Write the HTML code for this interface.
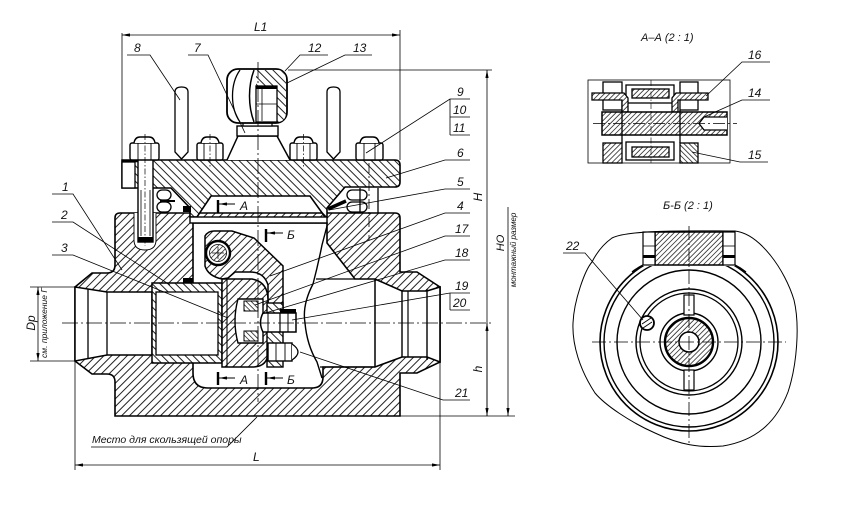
<!DOCTYPE html>
<html><head><meta charset="utf-8"><style>
html,body{margin:0;padding:0;background:#fff;width:857px;height:514px;overflow:hidden;}
svg{display:block;}
text{font-family:"Liberation Sans",sans-serif;font-style:italic;fill:#111;}
</style></head><body>
<svg width="857" height="514" viewBox="0 0 857 514" xmlns="http://www.w3.org/2000/svg">
<defs>
<pattern id="ha" patternUnits="userSpaceOnUse" width="5.5" height="5.5" patternTransform="rotate(45)"><rect width="5.5" height="5.5" fill="#fff"/><line x1="0.5" y1="0" x2="0.5" y2="5.5" stroke="#222" stroke-width="1"/></pattern>
<pattern id="hb" patternUnits="userSpaceOnUse" width="5.5" height="5.5" patternTransform="rotate(-45)"><rect width="5.5" height="5.5" fill="#fff"/><line x1="0.5" y1="0" x2="0.5" y2="5.5" stroke="#222" stroke-width="1"/></pattern>
<pattern id="hs" patternUnits="userSpaceOnUse" width="3.6" height="3.6" patternTransform="rotate(45)"><rect width="3.6" height="3.6" fill="#fff"/><line x1="0.5" y1="0" x2="0.5" y2="3.6" stroke="#2a2a2a" stroke-width="0.8"/></pattern>
<pattern id="hsb" patternUnits="userSpaceOnUse" width="3.6" height="3.6" patternTransform="rotate(-45)"><rect width="3.6" height="3.6" fill="#fff"/><line x1="0.5" y1="0" x2="0.5" y2="3.6" stroke="#2a2a2a" stroke-width="0.8"/></pattern>
<marker id="ar" viewBox="0 0 10 4" refX="10" refY="2" markerWidth="9" markerHeight="3.2" markerUnits="userSpaceOnUse" orient="auto-start-reverse"><path d="M0,0 L10,2 L0,4 Z" fill="#000"/></marker>
</defs>

<!-- Body (part 1) -->
<path d="M120,213 L395,213 Q400,213 400,218 L400,272 L417,272 L440,287 L440,362 L417,373 L400,373 L400,416 L115,416 L115,382 Q115,374 107,374 L92,374 L75,361 L75,287 L92,273 L107,273 Q115,273 115,265 L115,218 Q115,213 120,213 Z" fill="url(#ha)" stroke="#000" stroke-width="1.6"/>
<path d="M193,223 L327,223 L327,243 L355,279 L375,279 L402,291 L427,291 L440,287 L440,362 L427,357 L402,357 L375,367 L323,367 L323,377 Q323,388 312,388 L208,388 Q193,388 193,373 Z" fill="#fff" stroke="#000" stroke-width="1.6"/>
<path d="M75,287 L107,292 L152,292 L152,355 L107,355 L75,361 Z" fill="#fff" stroke="#000" stroke-width="1.5"/>
<line x1="88" y1="289" x2="88" y2="359" stroke="#000" stroke-width="1.3"/>
<line x1="107" y1="292" x2="107" y2="355" stroke="#000" stroke-width="1.3"/>
<line x1="375" y1="279" x2="375" y2="367" stroke="#000" stroke-width="1.5"/>
<line x1="402" y1="291" x2="402" y2="357" stroke="#000" stroke-width="1.4"/>
<line x1="408" y1="291" x2="408" y2="357" stroke="#000" stroke-width="1.2"/>
<line x1="427" y1="289" x2="427" y2="360" stroke="#000" stroke-width="1.4"/>
<path d="M327,226 L322,245 Q318,265 313,284 Q302,305 305,323 Q307,345 317,362 L322,378" fill="none" stroke="#000" stroke-width="1.4"/>
<line x1="316" y1="279" x2="355" y2="279" stroke="#000" stroke-width="1.3"/>
<line x1="320" y1="367" x2="375" y2="367" stroke="#000" stroke-width="1.3"/>
<rect x="152" y="283" width="70" height="80" fill="url(#hb)" stroke="#000" stroke-width="1.5"/>
<rect x="156" y="292" width="62" height="63" fill="#fff" stroke="#000" stroke-width="1.3"/>
<rect x="183" y="278" width="10" height="5" fill="#000"/>

<!-- Cover (part 6) -->
<path d="M122,160 L395,160 Q400,160 400,165 L400,182 Q400,187 395,187 L345,187 L327,208 L327,217 L325,217 L310,196 L211,196 L197,217 L190,217 L190,208 L171,188 L122,188 Z" fill="url(#hb)" stroke="#000" stroke-width="1.6"/>
<rect x="190" y="217" width="137" height="6" fill="#fff" stroke="#000" stroke-width="1.4"/>
<rect x="122" y="162" width="13" height="26" fill="#fff" stroke="#000" stroke-width="1.3"/>
<line x1="122" y1="161" x2="140" y2="161" stroke="#000" stroke-width="2.4"/>
<rect x="183" y="206" width="8" height="6" fill="#000"/>
<line x1="328" y1="209" x2="346" y2="201" stroke="#000" stroke-width="3.5"/>
<path d="M134,213 L134,240 Q134,250 145,250 Q156,250 156,240 L156,213" fill="#fff" stroke="#000" stroke-width="0.9"/>
<rect x="138" y="140" width="15" height="102" fill="#fff" stroke="#000" stroke-width="1.4"/>
<rect x="138" y="237" width="15" height="5" fill="#000"/>
<line x1="141" y1="190" x2="141" y2="236" stroke="#000" stroke-width="0.8"/>
<line x1="150" y1="190" x2="150" y2="236" stroke="#000" stroke-width="0.8"/>
<rect x="157" y="190" width="14" height="10" rx="5" fill="#fff" stroke="#000" stroke-width="1.3"/>
<rect x="157" y="202" width="14" height="10" rx="5" fill="#fff" stroke="#000" stroke-width="1.3"/>
<line x1="160" y1="201" x2="175" y2="201" stroke="#000" stroke-width="2"/>
<rect x="347" y="190" width="20" height="10" rx="5" fill="#fff" stroke="#000" stroke-width="1.3"/>
<rect x="347" y="202" width="20" height="10" rx="5" fill="#fff" stroke="#000" stroke-width="1.3"/>
<line x1="360" y1="188" x2="360" y2="213" stroke="#000" stroke-width="1.3"/>
<line x1="378" y1="188" x2="378" y2="213" stroke="#000" stroke-width="1.3"/>
<line x1="369" y1="163" x2="369" y2="240" stroke="#000" stroke-width="0.8" stroke-dasharray="10 3 2 3"/>

<!-- nuts (9) -->
<g fill="#fff" stroke="#000" stroke-width="1.4">
<rect x="130" y="143" width="29" height="17" rx="2"/>
<path d="M134,143 Q135,137 140,137 L149,137 Q154,137 155,143"/>
<rect x="197" y="143" width="26" height="17" rx="2"/>
<path d="M201,143 Q202,137 207,137 L213,137 Q218,137 219,143"/>
<rect x="290" y="143" width="27" height="17" rx="2"/>
<path d="M294,143 Q295,137 300,137 L307,137 Q312,137 313,143"/>
<rect x="356" y="143" width="27" height="17" rx="2"/>
<path d="M360,143 Q361,137 366,137 L373,137 Q378,137 379,143"/>
</g>
<g stroke="#000" stroke-width="0.9">
<line x1="138" y1="143" x2="138" y2="160"/><line x1="151" y1="143" x2="151" y2="160"/>
<line x1="204" y1="143" x2="204" y2="160"/><line x1="216" y1="143" x2="216" y2="160"/>
<line x1="297" y1="143" x2="297" y2="160"/><line x1="310" y1="143" x2="310" y2="160"/>
<line x1="364" y1="143" x2="364" y2="160"/><line x1="375" y1="143" x2="375" y2="160"/>
</g>
<g stroke="#000" stroke-width="0.7" stroke-dasharray="6 2 1.5 2">
<line x1="145" y1="134" x2="145" y2="246"/>
<line x1="210" y1="134" x2="210" y2="168"/>
<line x1="303.5" y1="134" x2="303.5" y2="168"/>
</g>
<path d="M175,152 L175,92 Q175,87 181.5,87 Q188,87 188,92 L188,152 L181.5,159 L175,152 Z" fill="#fff" stroke="#000" stroke-width="1.3"/>
<path d="M327,152 L327,92 Q327,87 333.5,87 Q340,87 340,92 L340,152 L333.5,159 L327,152 Z" fill="#fff" stroke="#000" stroke-width="1.3"/>
<path d="M227,160 L238,136 L277,136 L290,160" fill="#fff" stroke="#000" stroke-width="1.5"/>
<rect x="237" y="126" width="41" height="10" fill="#fff" stroke="#000" stroke-width="1.4"/>
<rect x="243" y="122" width="29" height="4" fill="#fff" stroke="#000" stroke-width="1.2"/>
<rect x="227" y="69" width="60" height="54" rx="11" fill="#fff" stroke="#000" stroke-width="1.8"/>
<path d="M256,70 L277,70 Q286,70 286,80 L286,112 Q286,122 277,122 L256,122 Z" fill="url(#hb)"/>
<rect x="256" y="86" width="21" height="36" fill="#fff" stroke="#000" stroke-width="1.3"/>
<rect x="256" y="86" width="21" height="3" fill="#000"/>
<line x1="262" y1="89" x2="262" y2="121" stroke="#000" stroke-width="0.8"/>
<line x1="256" y1="104" x2="277" y2="104" stroke="#000" stroke-width="0.8"/>
<path d="M254,70 C248,86 248,106 254,122" fill="none" stroke="#000" stroke-width="1.5"/>
<path d="M240,70 C230,84 230,108 240,122" fill="none" stroke="#000" stroke-width="1.3"/>

<!-- arm, pin, disc -->
<path d="M205,236 Q208,231 214,231 L232,231 L254,238 L283,266 L283,312 L268,312 L268,285 Q264,272 250,272 L235,272 L228,278 L222,279 Q208,276 205,266 Z" fill="url(#ha)" stroke="#000" stroke-width="1.5"/>
<circle cx="218" cy="253" r="12" fill="#fff" stroke="#000" stroke-width="2.4"/>
<circle cx="218" cy="253" r="8.5" fill="url(#hs)" stroke="#000" stroke-width="0.8"/>
<line x1="212" y1="253" x2="224" y2="253" stroke="#000" stroke-width="0.7"/>
<line x1="218" y1="247" x2="218" y2="259" stroke="#000" stroke-width="0.7"/>
<path d="M222,279 L252,279 Q268,282 268,300 L268,352 Q268,367 252,367 L222,367 Z" fill="url(#ha)" stroke="#000" stroke-width="1.5"/>
<line x1="227" y1="279" x2="227" y2="367" stroke="#000" stroke-width="1.1"/>
<rect x="267" y="303" width="16" height="64" fill="url(#hb)" stroke="#000" stroke-width="1.4"/>
<path d="M238,299 L263,299 L263,343 L238,343 Q232,321 238,299 Z" fill="#fff" stroke="#000" stroke-width="1.4"/>
<rect x="244" y="301" width="14" height="10" fill="url(#hsb)" stroke="#000" stroke-width="1"/>
<rect x="244" y="331" width="14" height="10" fill="url(#hsb)" stroke="#000" stroke-width="1"/>
<path d="M263,313 L296,313 L296,332 L263,332 Q258,322.5 263,313 Z" fill="#fff" stroke="#000" stroke-width="1.5"/>
<line x1="268" y1="313" x2="268" y2="332" stroke="#000" stroke-width="1"/>
<line x1="280" y1="313" x2="280" y2="332" stroke="#000" stroke-width="1.2"/>
<line x1="288" y1="313" x2="288" y2="332" stroke="#000" stroke-width="1"/>
<rect x="280" y="309" width="16" height="4" fill="#000"/>
<rect x="268" y="343" width="24" height="18" fill="#fff" stroke="#000" stroke-width="1.4"/>
<line x1="276" y1="343" x2="276" y2="361" stroke="#000" stroke-width="0.9"/>
<line x1="285" y1="343" x2="285" y2="361" stroke="#000" stroke-width="0.9"/>
<path d="M292,344 Q304,352 292,360" fill="#fff" stroke="#000" stroke-width="1.3"/>
<g stroke="#000" fill="none">
<line x1="218" y1="200" x2="218" y2="213" stroke-width="2.4"/>
<line x1="235" y1="204" x2="219" y2="204" stroke-width="1" marker-end="url(#ar)"/>
<line x1="266" y1="229" x2="266" y2="242" stroke-width="2.4"/>
<line x1="283" y1="233" x2="267" y2="233" stroke-width="1" marker-end="url(#ar)"/>
<line x1="218" y1="372" x2="218" y2="385" stroke-width="2.4"/>
<line x1="235" y1="378" x2="219" y2="378" stroke-width="1" marker-end="url(#ar)"/>
<line x1="266" y1="372" x2="266" y2="385" stroke-width="2.4"/>
<line x1="283" y1="378" x2="267" y2="378" stroke-width="1" marker-end="url(#ar)"/>
</g>
<text x="240" y="210" font-size="12">А</text>
<text x="287" y="239" font-size="12">Б</text>
<text x="240" y="384" font-size="12">А</text>
<text x="287" y="384" font-size="12">Б</text>

<g stroke="#000" stroke-width="0.8" stroke-dasharray="16 3 2 3" fill="none">
<line x1="258" y1="62" x2="258" y2="402"/>
<line x1="62" y1="323" x2="492" y2="323"/>
</g>

<g stroke="#000" stroke-width="0.8" fill="none">
<line x1="122" y1="33" x2="122" y2="160"/>
<line x1="400" y1="30" x2="400" y2="160"/>
<line x1="122" y1="35" x2="400" y2="35" marker-start="url(#ar)" marker-end="url(#ar)"/>
<line x1="288" y1="70" x2="492" y2="70"/>
<line x1="487" y1="70" x2="487" y2="416" marker-start="url(#ar)" marker-end="url(#ar)"/>
<line x1="487" y1="323" x2="487" y2="416" marker-start="url(#ar)"/>
<line x1="400" y1="416" x2="515" y2="416"/>
<line x1="508" y1="207" x2="508" y2="416" marker-end="url(#ar)"/>
<line x1="75" y1="362" x2="75" y2="470"/>
<line x1="440" y1="362" x2="440" y2="470"/>
<line x1="75" y1="465" x2="440" y2="465" marker-start="url(#ar)" marker-end="url(#ar)"/>
<line x1="30" y1="287" x2="75" y2="287"/>
<line x1="30" y1="361" x2="75" y2="361"/>
<line x1="38" y1="287" x2="38" y2="361" marker-start="url(#ar)" marker-end="url(#ar)"/>
<polyline points="91,447 227,447 257,417"/>
</g>
<text x="254" y="31" font-size="12">L1</text>
<text x="253" y="461" font-size="12">L</text>
<text transform="translate(482,197) rotate(-90)" font-size="12" text-anchor="middle">H</text>
<text transform="translate(482,369) rotate(-90)" font-size="12" text-anchor="middle">h</text>
<text transform="translate(504,243) rotate(-90)" font-size="11" text-anchor="middle">HO</text>
<text transform="translate(516,250) rotate(-90)" font-size="8" text-anchor="middle">монтажный размер</text>
<text transform="translate(35,323) rotate(-90)" font-size="12" text-anchor="middle">Dр</text>
<text transform="translate(47,323) rotate(-90)" font-size="8.5" text-anchor="middle">см. приложение Г</text>
<text x="92" y="443" font-size="10.5">Место для скользящей опоры</text>

<g stroke="#000" stroke-width="0.8" fill="none">
<polyline points="127,55 150,55 180,100"/>
<polyline points="188,55 208,55 245,133"/>
<polyline points="328,55 300,55 285,71"/>
<polyline points="372,55 345,55 287,83"/>
<polyline points="470,99 450,99 366,153"/>
<line x1="450" y1="117" x2="470" y2="117"/>
<line x1="450" y1="135" x2="470" y2="135"/>
<line x1="450" y1="99" x2="450" y2="135"/>
<polyline points="470,160 445,160 386,178"/>
<polyline points="470,189 445,189 329,210"/>
<polyline points="470,213 445,213 270,276"/>
<polyline points="470,236 445,236 255,305"/>
<polyline points="470,260 445,260 262,314"/>
<polyline points="470,293 450,293 292,320"/>
<line x1="450" y1="310" x2="470" y2="310"/>
<line x1="450" y1="293" x2="450" y2="310"/>
<polyline points="470,400 443,400 300,352"/>
<polyline points="52,194 73,194 122,270"/>
<polyline points="52,222 73,222 170,285"/>
<polyline points="52,255 73,255 228,318"/>
</g>
<g font-size="12">
<text x="134" y="52">8</text>
<text x="194" y="52">7</text>
<text x="308" y="52">12</text>
<text x="353" y="52">13</text>
<text x="457" y="96">9</text>
<text x="453" y="114">10</text>
<text x="453" y="132">11</text>
<text x="457" y="157">6</text>
<text x="457" y="186">5</text>
<text x="457" y="210">4</text>
<text x="455" y="233">17</text>
<text x="455" y="257">18</text>
<text x="455" y="290">19</text>
<text x="453" y="307">20</text>
<text x="455" y="397">21</text>
<text x="62" y="191">1</text>
<text x="61" y="219">2</text>
<text x="61" y="252">3</text>
</g>

<!-- SECTION A-A -->
<text x="641" y="41" font-size="11">А–А  (2 : 1)</text>
<rect x="588" y="80" width="142" height="83" fill="none" stroke="#000" stroke-width="0.8"/>
<g stroke="#000" stroke-width="1.3">
<rect x="603" y="82" width="19" height="28" fill="#fff"/>
<rect x="680" y="82" width="18" height="28" fill="#fff"/>
<rect x="603" y="143" width="19" height="20" fill="url(#hs)"/>
<rect x="680" y="143" width="18" height="20" fill="url(#hsb)"/>
<rect x="626" y="85" width="48" height="18" fill="#fff"/>
<rect x="632" y="89" width="37" height="9" fill="url(#hs)"/>
<rect x="626" y="142" width="48" height="18" fill="#fff"/>
<rect x="632" y="147" width="37" height="10" fill="url(#hs)"/>
<path d="M592,93 L624,93 L628,98 L628,112 L622,112 L622,100 L592,100 Z" fill="url(#hs)"/>
<path d="M708,93 L676,93 L672,98 L672,112 L678,112 L678,100 L708,100 Z" fill="url(#hs)"/>
<rect x="602" y="112" width="125" height="23" fill="url(#hs)" stroke-width="1.5"/>
<path d="M727,117 L704,117 L699,123.5 L704,130 L727,130" fill="#fff"/>
<line x1="622" y1="110" x2="622" y2="143"/>
<line x1="680" y1="110" x2="680" y2="143"/>
</g>
<line x1="593" y1="123.5" x2="737" y2="123.5" stroke="#000" stroke-width="0.7" stroke-dasharray="12 3 2 3"/>
<line x1="651" y1="80" x2="651" y2="163" stroke="#000" stroke-width="0.6" stroke-dasharray="6 2 1.5 2"/>
<g stroke="#000" stroke-width="0.8" fill="none">
<polyline points="770,62 742,62 706,96"/>
<polyline points="770,100 742,100 704,117"/>
<polyline points="768,162 740,162 692,152"/>
</g>
<text x="748" y="59" font-size="12">16</text>
<text x="748" y="97" font-size="12">14</text>
<text x="748" y="159" font-size="12">15</text>

<!-- SECTION Б-Б -->
<text x="663" y="209" font-size="11">Б-Б  (2 : 1)</text>
<g fill="none" stroke="#000">
<circle cx="689" cy="342" r="89" stroke-width="1.6"/>
<circle cx="689" cy="342" r="85" stroke-width="1.4"/>
<circle cx="689" cy="342" r="72" stroke-width="1.4"/>
<circle cx="689" cy="342" r="53" stroke-width="1.4"/>
<circle cx="689" cy="342" r="49" stroke-width="1.3"/>
<circle cx="689" cy="342" r="29" stroke-width="1.4"/>
</g>
<circle cx="689" cy="342" r="24" fill="url(#hs)" stroke="#000" stroke-width="2.4"/>
<circle cx="689" cy="342" r="10" fill="#fff" stroke="#000" stroke-width="1.5"/>
<rect x="684" y="295" width="10" height="20" fill="#fff" stroke="#000" stroke-width="1.2"/>
<rect x="684" y="370" width="10" height="20" fill="#fff" stroke="#000" stroke-width="1.2"/>
<rect x="640" y="226" width="98" height="40" fill="#fff"/>
<rect x="655" y="232" width="68" height="33" fill="url(#hs)" stroke="#000" stroke-width="1.5"/>
<rect x="643" y="232" width="12" height="33" fill="#fff" stroke="#000" stroke-width="1.2"/>
<rect x="723" y="232" width="12" height="33" fill="#fff" stroke="#000" stroke-width="1.2"/>
<line x1="643" y1="246" x2="655" y2="246" stroke="#000" stroke-width="0.8"/>
<line x1="723" y1="246" x2="735" y2="246" stroke="#000" stroke-width="0.8"/>
<rect x="643" y="255" width="12" height="3" fill="#000"/>
<rect x="723" y="255" width="12" height="3" fill="#000"/>
<path d="M643,265 Q637,268 632,272" fill="none" stroke="#000" stroke-width="1.3"/>
<path d="M735,265 Q741,268 746,272" fill="none" stroke="#000" stroke-width="1.3"/>
<path d="M612,238 C630,229 700,231 735,231 C760,234 785,270 794,300 C800,325 797,365 788,392 C778,418 760,440 723,446 C700,448 680,445 655,433 C630,422 605,405 595,393 C580,370 572,345 573,323 C574,300 585,270 592,262 C598,250 605,243 612,238 Z" fill="none" stroke="#000" stroke-width="1"/>
<circle cx="647" cy="323" r="7" fill="#fff" stroke="#000" stroke-width="1.8"/>
<line x1="642" y1="324" x2="651" y2="318" stroke="#000" stroke-width="0.9"/>
<line x1="643" y1="328" x2="652" y2="322" stroke="#000" stroke-width="0.9"/>
<g stroke="#000" stroke-width="0.8" stroke-dasharray="14 3 2 3">
<line x1="689" y1="226" x2="689" y2="446"/>
<line x1="592" y1="342" x2="786" y2="342"/>
</g>
<polyline points="563,253 585,253 643,320" fill="none" stroke="#000" stroke-width="0.8"/>
<text x="566" y="250" font-size="12">22</text>
</svg>
</body></html>
